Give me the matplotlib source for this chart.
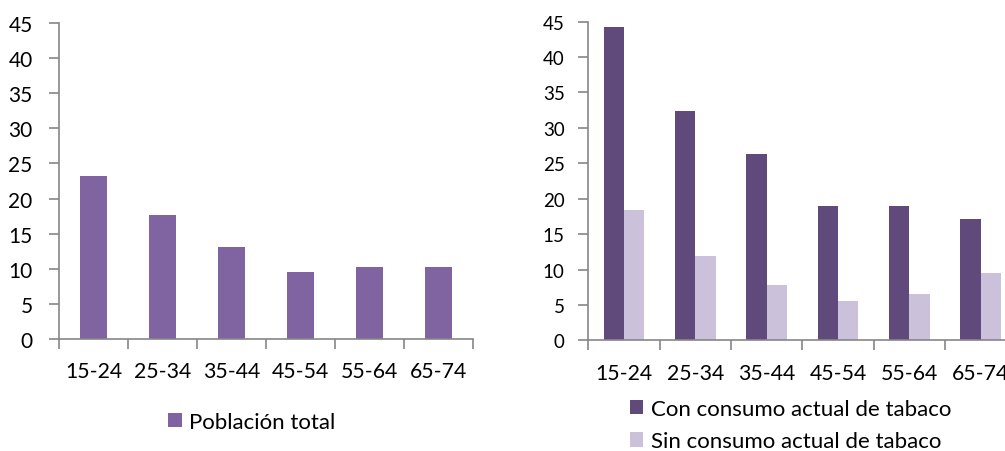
import numpy as np
import matplotlib
matplotlib.use('Agg')
import matplotlib.pyplot as plt

plt.rcParams['font.family'] = ['Lato', 'DejaVu Sans']

# datos
grupos = ['15-24', '25-34', '35-44', '45-54', '55-64', '65-74']
poblacion_total = [23.2, 17.7, 13.1, 9.5, 10.2, 10.3]
con_tabaco = [44.3, 32.4, 26.3, 19.0, 18.9, 17.2]
sin_tabaco = [18.4, 11.9, 7.8, 5.6, 6.5, 9.5]

c_total = '#8064A2'
c_con = '#604A7B'
c_sin = '#CCC1DA'
c_eje = '#868686'

fig = plt.figure(figsize=(10.05, 4.52), dpi=100)
ax1 = fig.add_axes([0.0587, 0.2478, 0.4119, 0.6992])
ax2 = fig.add_axes([0.5854, 0.2449, 0.4259, 0.7049])

x = np.arange(len(grupos))


def estilo(ax, ysize, ypad):
    ax.set_xlim(-0.5, len(grupos) - 0.5)
    ax.set_ylim(0, 45)
    ax.set_yticks(np.arange(0, 50, 5))
    ax.set_xticks(np.arange(-0.5, len(grupos)), [''] * (len(grupos) + 1))
    ax.set_xticks(x, grupos, minor=True)
    for s in ['top', 'right']:
        ax.spines[s].set_visible(False)
    for s in ['left', 'bottom']:
        ax.spines[s].set_color(c_eje)
        ax.spines[s].set_linewidth(1.2)
    ax.tick_params(axis='x', which='major', length=7, width=1.2, color=c_eje, direction='out')
    ax.tick_params(axis='x', which='minor', length=0, pad=16, labelsize=15.3)
    ax.tick_params(axis='y', length=7, width=1.2, color=c_eje, direction='out',
                   pad=ypad, labelsize=ysize)


# grafico izquierdo
ax1.bar(x, poblacion_total, width=0.4, color=c_total, label='Población total')
estilo(ax1, 15, 12)
ax1.legend(loc='center', bbox_to_anchor=(252 / 1005, 1 - 423 / 452),
           bbox_transform=fig.transFigure, frameon=False, fontsize=16,
           handlelength=0.6, handleheight=0.6, handletextpad=0.35)

# grafico derecho
w = 0.285
ax2.bar(x - w / 2, con_tabaco, width=w, color=c_con, label='Con consumo actual de tabaco')
ax2.bar(x + w / 2, sin_tabaco, width=w, color=c_sin, label='Sin consumo actual de tabaco')
estilo(ax2, 13.5, 10)
ax2.legend(loc='upper left', bbox_to_anchor=(619 / 1005, 1 - 389 / 452),
           bbox_transform=fig.transFigure, frameon=False, fontsize=16,
           handlelength=0.6, handleheight=0.6, handletextpad=0.35,
           labelspacing=0.55, borderpad=0)

fig.savefig('out.png', dpi=100)
